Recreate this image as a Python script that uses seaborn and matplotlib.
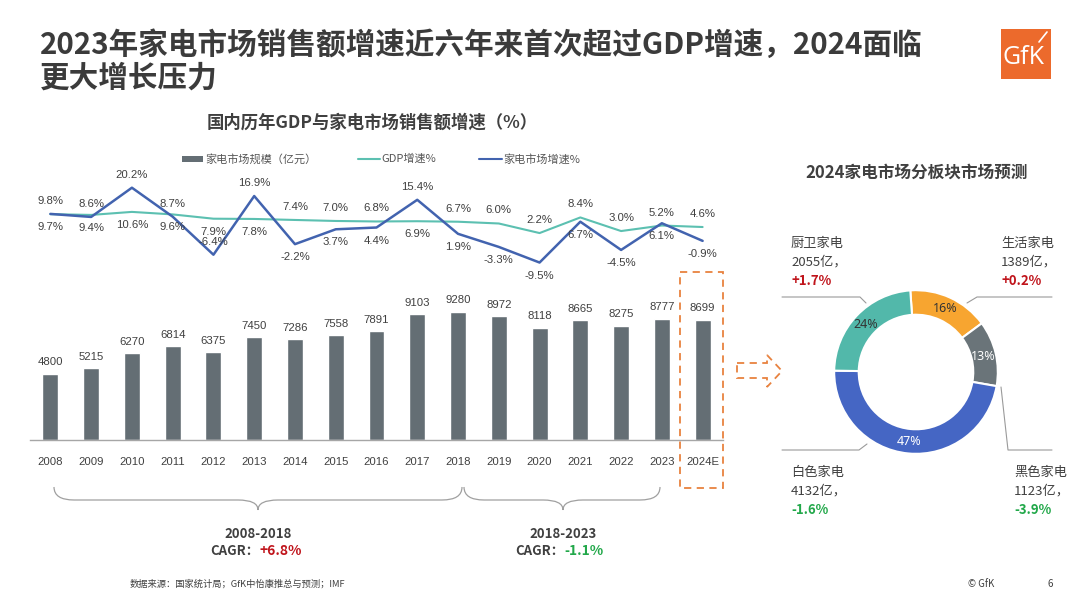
import numpy as np
import pandas as pd
import matplotlib
matplotlib.use("Agg")
import matplotlib.pyplot as plt
import seaborn as sns
from matplotlib.patches import Rectangle, Polygon, PathPatch
from matplotlib.path import Path

# ---------------- data ----------------
years = ['2008', '2009', '2010', '2011', '2012', '2013', '2014', '2015', '2016',
         '2017', '2018', '2019', '2020', '2021', '2022', '2023', '2024E']
market_size = [4800, 5215, 6270, 6814, 6375, 7450, 7286, 7558, 7891,
               9103, 9280, 8972, 8118, 8665, 8275, 8777, 8699]
gdp_growth = [9.7, 9.4, 10.6, 9.6, 7.9, 7.8, 7.4, 7.0, 6.8,
              6.9, 6.7, 6.0, 2.2, 8.4, 3.0, 5.2, 4.6]
market_growth = [9.8, 8.6, 20.2, 8.7, -6.4, 16.9, -2.2, 3.7, 4.4,
                 15.4, 1.9, -3.3, -9.5, 6.7, -4.5, 6.1, -0.9]
# label placement for GDP labels (market labels go on the opposite side)
gdp_label_above = [False] * 6 + [True] * 3 + [False] + [True] * 7

segments = ['生活家电', '黑色家电', '白色家电', '厨卫家电']
segment_values = [1389, 1123, 4132, 2055]
segment_change = ['+0.2%', '-3.9%', '-1.6%', '+1.7%']

cagr_periods = ['2008-2018', '2018-2023']
cagr_values = ['+6.8%', '-1.1%']

legend_labels = ['家电市场规模（亿元）', 'GDP增速%', '家电市场增速%']

# ---------------- style ----------------
W, H = 1080, 607
sns.set_theme(style='white')
plt.rcParams['font.family'] = ['Noto Sans CJK SC', 'DejaVu Sans']

BAR_C = '#646E74'
GDP_C = '#5CC0B1'
MKT_C = '#4263AF'
ORANGE = '#E8823F'
RED = '#C0141B'
GREEN = '#22A84A'
TXT = '#404040'
NUMF = 'Liberation Sans'

fig = plt.figure(figsize=(10.8, 6.07), dpi=100)
fig.patch.set_facecolor('white')


def box(x0, y0, x1, y1):
    return [x0 / W, 1 - y1 / H, (x1 - x0) / W, (y1 - y0) / H]


df = pd.DataFrame({'year': years, 'size': market_size,
                   'gdp': gdp_growth, 'mkt': market_growth})
df['pos'] = np.arange(len(years))

# ---------------- bars ----------------
axb = fig.add_axes(box(30, 290, 723, 440))
sns.barplot(data=df, x='year', y='size', color=BAR_C, width=0.39,
            saturation=1, ax=axb)
axb.set_xlim(-0.5, len(years) - 0.5)
axb.set_ylim(0, 10846)
axb.set_xlabel('')
axb.set_ylabel('')
axb.set_yticks([])
for s in ['left', 'right', 'top']:
    axb.spines[s].set_visible(False)
axb.spines['bottom'].set_color('#A6A6A6')
axb.spines['bottom'].set_linewidth(1)
axb.tick_params(axis='x', length=0, pad=12, labelsize=8.2, labelcolor=TXT)
for lab in axb.get_xticklabels():
    lab.set_fontfamily(NUMF)
axb.bar_label(axb.containers[0], labels=[str(v) for v in market_size],
              padding=4.5, fontsize=8.2, color=TXT, fontfamily=NUMF, clip_on=False)
axb.patch.set_alpha(0)

# ---------------- lines ----------------
axl = fig.add_axes(box(30, 160, 723, 290))
axl.patch.set_alpha(0)
sns.lineplot(data=df, x='pos', y='gdp', color=GDP_C, lw=1.5, ax=axl, zorder=2)
sns.lineplot(data=df, x='pos', y='mkt', color=MKT_C, lw=1.8, ax=axl, zorder=3)
axl.set_xlim(-0.5, len(years) - 0.5)
axl.set_ylim(-20.4, 31.2)
axl.axis('off')
for i in range(len(years)):
    up = gdp_label_above[i]
    axl.annotate(f'{gdp_growth[i]:.1f}%', (i, gdp_growth[i]),
                 xytext=(0, 13 if up else -13), textcoords='offset pixels',
                 ha='center', va='center', fontsize=8.2, color=TXT, fontfamily=NUMF,
                 annotation_clip=False)
    axl.annotate(f'{market_growth[i]:.1f}%', (i, market_growth[i]),
                 xytext=(0, -13 if up else 13), textcoords='offset pixels',
                 ha='center', va='center', fontsize=8.2, color=TXT, fontfamily=NUMF,
                 annotation_clip=False)

# ---------------- donut ----------------
axp = fig.add_axes(box(916 - 90, 372 - 90, 916 + 90, 372 + 90))
pie_colors = ['#F7A530', '#6A7479', '#4566C4', '#52B8AA']
wedges, _, autotexts = axp.pie(
    segment_values, colors=pie_colors, startangle=94, counterclock=False,
    radius=1, wedgeprops=dict(width=0.3, edgecolor='white', linewidth=1.5),
    autopct='%.0f%%', pctdistance=0.85,
    textprops=dict(fontsize=9, fontfamily='Noto Sans'))
for t, c in zip(autotexts, ['#333333', 'white', 'white', '#333333']):
    t.set_color(c)
axp.set_xlim(-1.1, 1.1)
axp.set_ylim(-1.1, 1.1)
axp.set_aspect('equal')
axp.axis('off')

# ---------------- overlay (pixel coords) ----------------
ov = fig.add_axes([0, 0, 1, 1], zorder=10)
ov.set_xlim(0, W)
ov.set_ylim(H, 0)
ov.axis('off')
ov.patch.set_alpha(0)

# titles
ov.text(40, 45, '2023年家电市场销售额增速近六年来首次超过GDP增速，2024面临',
        fontsize=21.3, fontweight='bold', color='#3B3B3B', va='center', ha='left')
ov.text(40, 78, '更大增长压力', fontsize=21.3, fontweight='bold', color='#3B3B3B',
        va='center', ha='left')
ov.text(372, 123, '国内历年GDP与家电市场销售额增速（%）', fontsize=12.5,
        fontweight='bold', color=TXT, ha='center', va='center')
ov.text(917, 173, '2024家电市场分板块市场预测', fontsize=12, fontweight='bold',
        color=TXT, ha='center', va='center')

# logo
ov.add_patch(Rectangle((1001, 29), 50, 50, fc='#EC6A2C', ec='none'))
ov.text(1024, 57, 'GfK', color='white', fontsize=18, fontfamily='Open Sans',
        ha='center', va='center')
ov.plot([1039, 1047], [42, 32], color='white', lw=1.2)

# legend
ov.add_patch(Rectangle((182, 156), 21, 6, fc=BAR_C, ec='none'))
ov.text(205, 159, legend_labels[0], fontsize=8, color='#555555', va='center')
ov.plot([358, 380], [159, 159], color=GDP_C, lw=1.5)
ov.text(381, 159, legend_labels[1], fontsize=8, color='#555555', va='center')
ov.plot([479, 502], [159, 159], color=MKT_C, lw=1.5)
ov.text(503, 159, legend_labels[2], fontsize=8, color='#555555', va='center')

# dashed box around forecast and arrow
ov.add_patch(Rectangle((680, 272), 43, 216, fill=False, ec=ORANGE, lw=1.3,
                       ls=(0, (4, 3))))
ov.add_patch(Polygon([(737, 363), (767, 363), (767, 355), (782, 371),
                      (767, 387), (767, 378), (737, 378)], closed=True,
                     fill=False, ec=ORANGE, lw=1.3, ls=(0, (4, 3))))


# braces
def brace(x0, x1, xc, ytop=487, ymid=500, ytip=510):
    verts = [(x0, ytop), (x0, ymid), (x0 + 20, ymid), (xc - 20, ymid),
             (xc, ymid), (xc, ytip), (xc, ymid), (xc + 20, ymid),
             (x1 - 20, ymid), (x1, ymid), (x1, ytop)]
    codes = [Path.MOVETO, Path.CURVE3, Path.CURVE3, Path.LINETO,
             Path.CURVE3, Path.CURVE3, Path.CURVE3, Path.CURVE3,
             Path.LINETO, Path.CURVE3, Path.CURVE3]
    ov.add_patch(PathPatch(Path(verts, codes), fill=False, ec='#A0A0A0', lw=0.9))


brace(54, 462, 258)
brace(464, 660, 563)

for xc, per, val, col in [(258, cagr_periods[0], cagr_values[0], RED),
                          (563, cagr_periods[1], cagr_values[1], GREEN)]:
    ov.text(xc, 534, per, fontsize=9.5, fontweight='bold', color=TXT,
            ha='center', va='center')
    ov.text(xc + 1, 551, 'CAGR：', fontsize=9.5, fontweight='bold', color=TXT,
            ha='right', va='center')
    ov.text(xc + 1, 551, val, fontsize=10, fontweight='bold', color=col,
            ha='left', va='center')

# donut annotations
ann = {
    '生活家电': (1001, 243),
    '黑色家电': (1014, 472),
    '白色家电': (791, 472),
    '厨卫家电': (791, 243),
}
for name, val, chg in zip(segments, segment_values, segment_change):
    x, y = ann[name]
    ov.text(x, y, name, fontsize=9.5, color='#404040', va='center')
    ov.text(x, y + 19, f'{val}亿，', fontsize=9.5, color='#404040', va='center')
    ov.text(x, y + 38, chg, fontsize=9.5, fontweight='bold',
            color=RED if chg.startswith('+') else GREEN, va='center')

LC = '#9A9A9A'
ov.plot([782, 860, 866], [297, 297, 303], color=LC, lw=0.8)
ov.plot([967, 977, 1052], [303, 297, 297], color=LC, lw=0.8)
ov.plot([867, 859, 782], [444, 450, 450], color=LC, lw=0.8)
ov.plot([1001, 1008, 1052], [387, 450, 450], color=LC, lw=0.8)

# footer
ov.text(130, 584, '数据来源：国家统计局；GfK中怡康推总与预测；IMF', fontsize=6.7,
        color='#404040', va='center')
ov.text(968, 584, '© GfK', fontsize=7, color='#404040', va='center')
ov.text(1047, 584, '6', fontsize=7, color='#404040', va='center')

fig.savefig('out.png', dpi=100, facecolor='white')
